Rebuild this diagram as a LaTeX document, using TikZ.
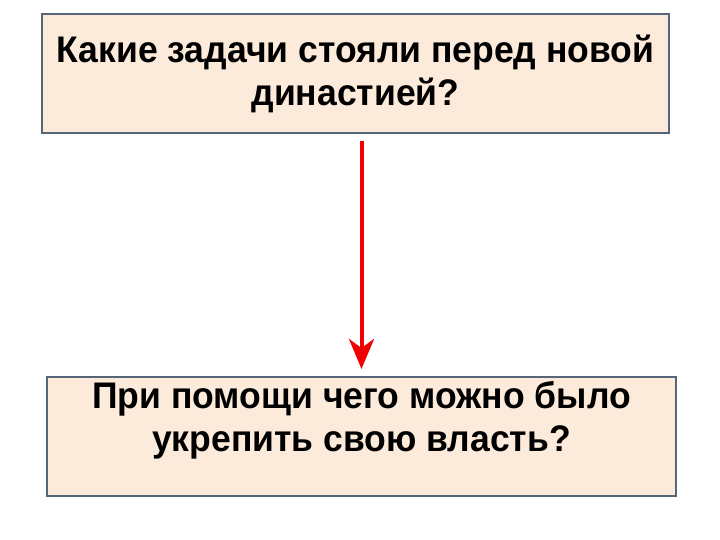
\documentclass[tikz,border=0pt]{standalone}
\usepackage{fontspec}
\setmainfont{Liberation Sans}[FakeStretch=0.96]
\usetikzlibrary{arrows.meta,positioning}
\definecolor{boxfill}{HTML}{FCEADB}
\definecolor{boxline}{HTML}{56657A}
\definecolor{arrred}{HTML}{F00000}

\begin{document}
\begin{tikzpicture}[x=1pt,y=1pt,
    qfont/.style={font=\fontsize{37}{43}\selectfont\bfseries,align=center},
    qbox/.style={rectangle,draw=boxline,line width=2pt,fill=boxfill,
      minimum width=627pt,minimum height=119pt,inner sep=0pt,qfont},
    conn/.style={draw=arrred,line width=4pt,
      -{Stealth[length=30pt,width=25pt,inset=9pt]},
      shorten <=7pt,shorten >=7pt}]
  \useasboundingbox (0,0) rectangle (720,540);

  \node[qbox] (tasks) at (355.5,466.5)
    {Какие задачи стояли перед новой\\династией?};
  \node[qbox,minimum width=629pt] (power) at (361.5,103.5) {};
  \node[qfont,below=2pt of power.north,anchor=north] (powertxt)
    {При помощи чего можно было\\укрепить свою власть?};

  \draw[conn] (tasks.south -| power.north) -- (power.north);
\end{tikzpicture}
\end{document}
